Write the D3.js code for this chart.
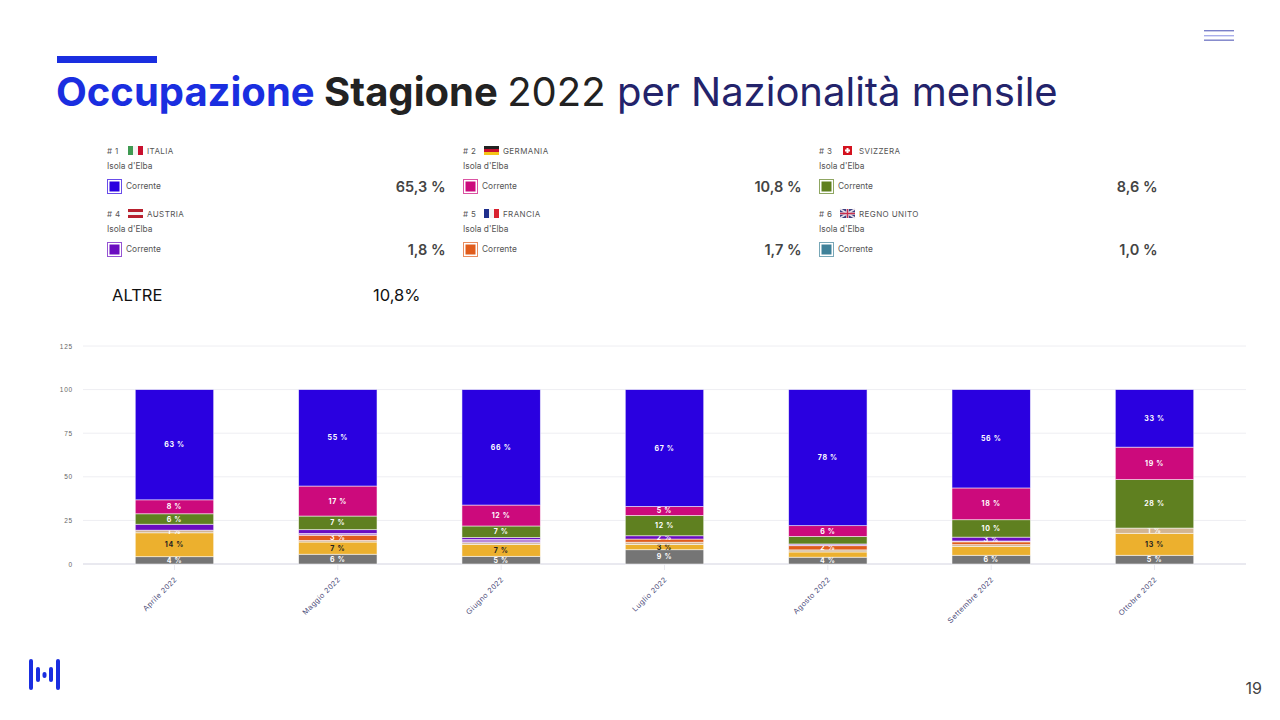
<!DOCTYPE html>
<html>
<head>
<meta charset="utf-8">
<script src="https://cdn.jsdelivr.net/npm/d3@7"></script>
<style>
body { margin: 0; background: #fff; }
svg { display: block; font-family: Inter, sans-serif; }
.grid line { stroke: #eeeef2; }
.tick-y text { fill: #666; font-size: 6.5px; letter-spacing: 0.8px; }
.tick-x text { fill: #4a4a78; font-size: 7.5px; letter-spacing: 0.6px; }
.tick-x line { stroke: #e8e8ee; }
.seg-label { font-size: 7px; font-weight: 700; letter-spacing: 0.7px; text-anchor: middle; dominant-baseline: central; }
.leg-head { fill: #555; font-size: 8px; letter-spacing: 0.4px; }
.leg-sub { fill: #555; font-size: 8.4px; }
.leg-val { fill: #444; font-size: 14.5px; font-weight: 600; text-anchor: end; dominant-baseline: central; }
</style>
</head>
<body>
<svg id="slide" width="1280" height="720"></svg>
<script>
"use strict";

var colors = {
    other: '#757575',
    yellow: '#ecb02e',
    tan: '#d2b592',
    orange: '#e05c1c',
    lilac: '#b98ad8',
    purple: '#6a0cc0',
    green: '#5f8020',
    magenta: '#cc0a7c',
    blue: '#2a00e0'
};
var keys = ['other', 'yellow', 'tan', 'orange', 'lilac', 'purple', 'green', 'magenta', 'blue'];

var months = [
    {month: 'Aprile 2022', other: 4.2, yellow: 13.7, tan: 1.5, orange: 0, lilac: 0, purple: 3.4, green: 6, magenta: 8, blue: 63.2,
     labels: {other: '4 %', yellow: '14 %', tan: '1 %', green: '6 %', magenta: '8 %', blue: '63 %'}},
    {month: 'Maggio 2022', other: 5.6, yellow: 7, tan: 0.9, orange: 3, lilac: 1, purple: 2.2, green: 7.8, magenta: 17.2, blue: 55.3,
     labels: {other: '6 %', yellow: '7 %', orange: '3 %', green: '7 %', magenta: '17 %', blue: '55 %'}},
    {month: 'Giugno 2022', other: 4.4, yellow: 6.8, tan: 1, orange: 0, lilac: 1.8, purple: 1.2, green: 6.6, magenta: 12, blue: 66.2,
     labels: {other: '5 %', yellow: '7 %', green: '7 %', magenta: '12 %', blue: '66 %'}},
    {month: 'Luglio 2022', other: 8.2, yellow: 3, tan: 1.3, orange: 1.8, lilac: 0, purple: 1.9, green: 11.6, magenta: 5.2, blue: 67,
     labels: {other: '9 %', yellow: '3 %', purple: '2 %', green: '12 %', magenta: '5 %', blue: '67 %'}},
    {month: 'Agosto 2022', other: 3.9, yellow: 3, tan: 1.2, orange: 2.4, lilac: 1, purple: 0, green: 4.3, magenta: 6.2, blue: 78,
     labels: {other: '4 %', orange: '2 %', magenta: '6 %', blue: '78 %'}},
    {month: 'Settembre 2022', other: 5, yellow: 5, tan: 1.1, orange: 1.6, lilac: 0.5, purple: 2.2, green: 10, magenta: 18.2, blue: 56.4,
     labels: {other: '6 %', purple: '3 %', green: '10 %', magenta: '18 %', blue: '56 %'}},
    {month: 'Ottobre 2022', other: 5, yellow: 12.6, tan: 3, orange: 0, lilac: 0, purple: 0, green: 27.8, magenta: 18.6, blue: 33,
     labels: {other: '5 %', yellow: '13 %', tan: '1 %', green: '28 %', magenta: '19 %', blue: '33 %'}}
];

// flag stripes are listed as [color, share of width or height]
var legend = [
    {rank: 1, name: 'ITALIA', value: '65,3 %', color: '#2a00e0', dir: 'v', flag: ['#3f9a52', '#f4f4f4', '#c8102e']},
    {rank: 2, name: 'GERMANIA', value: '10,8 %', color: '#cc0a7c', dir: 'h', flag: ['#222', '#c8102e', '#f5c518']},
    {rank: 3, name: 'SVIZZERA', value: '8,6 %', color: '#5f8020', dir: 'swiss', flag: ['#d4121f']},
    {rank: 4, name: 'AUSTRIA', value: '1,8 %', color: '#6a0cc0', dir: 'h', flag: ['#b8202e', '#f4f4f4', '#b8202e']},
    {rank: 5, name: 'FRANCIA', value: '1,7 %', color: '#e05c1c', dir: 'v', flag: ['#1f2f8c', '#f4f4f4', '#d8202e']},
    {rank: 6, name: 'REGNO UNITO', value: '1,0 %', color: '#3f8199', dir: 'uk', flag: ['#3a3f80']}
];

var svg = d3.select('#slide');

function draw_header() {
    svg.append('rect').attr('x', 57).attr('y', 56).attr('width', 100).attr('height', 7).attr('fill', '#1a2ee0');

    var title = svg.append('text').attr('x', 56).attr('y', 106).attr('font-size', 40);
    title.append('tspan').attr('font-weight', 700).attr('fill', '#1a2ee0').text('Occupazione ');
    title.append('tspan').attr('font-weight', 700).attr('fill', '#222').text('Stagione ');
    title.append('tspan').attr('fill', '#222').text('2022 ');
    title.append('tspan').attr('fill', '#23236b').text('per Nazionalità mensile');

    svg.selectAll('.menu')
        .data([[30, '#7a80c8'], [35, '#a9aeea'], [39.5, '#7a80c8']])
        .enter()
        .append('rect')
        .attr('x', 1204).attr('width', 30).attr('height', 1.4)
        .attr('y', function (d) { return d[0]; })
        .attr('fill', function (d) { return d[1]; });

    svg.selectAll('.logo')
        .data([[31, 659, 690], [38, 667, 682], [44.5, 672, 678], [51, 667, 682], [58, 659, 690]])
        .enter()
        .append('rect')
        .attr('x', function (d) { return d[0] - 2; })
        .attr('y', function (d) { return d[1]; })
        .attr('width', 4).attr('rx', 2)
        .attr('height', function (d) { return d[2] - d[1]; })
        .attr('fill', '#1a2ee0');

    svg.append('text').attr('x', 1262).attr('y', 694).attr('text-anchor', 'end')
        .attr('font-size', 16).attr('fill', '#444').text('19');
}

function draw_flag(g, d) {
    var w = 15, h = 9, flag = g.append('g').attr('transform', 'translate(21,-5)');
    if (d.dir === 'v' || d.dir === 'h') {
        d.flag.forEach(function (c, i) {
            flag.append('rect')
                .attr('x', d.dir === 'v' ? i * w / 3 : 0)
                .attr('y', d.dir === 'h' ? i * h / 3 : 0)
                .attr('width', d.dir === 'v' ? w / 3 : w)
                .attr('height', d.dir === 'h' ? h / 3 : h)
                .attr('fill', c);
        });
    } else if (d.dir === 'swiss') {
        flag.append('rect').attr('x', 3).attr('width', 9).attr('height', h).attr('fill', d.flag[0]);
        flag.append('rect').attr('x', 6.5).attr('y', 2).attr('width', 2).attr('height', 5).attr('fill', '#fff');
        flag.append('rect').attr('x', 5).attr('y', 3.5).attr('width', 5).attr('height', 2).attr('fill', '#fff');
    } else {
        flag.append('rect').attr('width', w).attr('height', h).attr('fill', d.flag[0]);
        flag.append('path').attr('d', 'M0,0L15,9M15,0L0,9').attr('stroke', '#e8dfe8').attr('stroke-width', 1.6);
        flag.append('path').attr('d', 'M7.5,0V9M0,4.5H15').attr('stroke', '#e8dfe8').attr('stroke-width', 2.6);
        flag.append('path').attr('d', 'M7.5,0V9M0,4.5H15').attr('stroke', '#c8304e').attr('stroke-width', 1.3);
    }
}

function draw_legend() {
    var col = d3.scalePoint().domain([0, 1, 2]).range([107, 819]),
        row = d3.scalePoint().domain([0, 1]).range([151, 214]);

    var items = svg.selectAll('.legend-item')
        .data(legend)
        .enter()
        .append('g')
        .attr('transform', function (d, i) {
            return 'translate(' + col(i % 3) + ',' + row(Math.floor(i / 3)) + ')';
        });

    items.append('text').attr('class', 'leg-head').attr('y', 2.8).text(function (d) { return '# ' + d.rank; });
    items.append('text').attr('class', 'leg-head').attr('x', 40).attr('y', 2.8).text(function (d) { return d.name; });
    items.append('text').attr('class', 'leg-sub').attr('y', 18).text("Isola d'Elba");
    items.append('rect').attr('x', 0.5).attr('y', 28.5).attr('width', 14).attr('height', 14)
        .attr('fill', '#fff')
        .attr('stroke', function (d) { return d.color; })
        .attr('stroke-opacity', 0.7);
    items.append('rect').attr('x', 2.5).attr('y', 30.5).attr('width', 10).attr('height', 10)
        .attr('fill', function (d) { return d.color; });
    items.append('text').attr('class', 'leg-sub').attr('x', 19).attr('y', 38).text('Corrente');
    items.append('text').attr('class', 'leg-val').attr('x', 338.5).attr('y', 35).text(function (d) { return d.value; });
    items.each(function (d) { draw_flag(d3.select(this), d); });

    svg.append('text').attr('x', 112).attr('y', 300.5).attr('font-size', 16.5).attr('fill', '#111').text('ALTRE');
    svg.append('text').attr('x', 373).attr('y', 300.5).attr('font-size', 16.5).attr('fill', '#111').text('10,8%');
}

function draw_chart() {
    var x = d3.scaleBand()
            .domain(months.map(function (d) { return d.month; }))
            .range([83, 1246])
            .paddingInner(0.52)
            .paddingOuter(0.32),
        y = d3.scaleLinear().domain([0, 125]).range([564, 346]),
        yTicks = [0, 25, 50, 75, 100, 125];

    svg.append('g').attr('class', 'grid')
        .selectAll('line')
        .data(yTicks)
        .enter()
        .append('line')
        .attr('x1', 83).attr('x2', 1246)
        .attr('y1', function (d) { return y(d); })
        .attr('y2', function (d) { return y(d); });

    var yAxis = svg.append('g').attr('class', 'tick-y')
        .attr('transform', 'translate(76,0)')
        .call(d3.axisLeft(y).tickValues(yTicks).tickSize(0));
    yAxis.select('.domain').remove();

    var xAxis = svg.append('g').attr('class', 'tick-x')
        .attr('transform', 'translate(0,564)')
        .call(d3.axisBottom(x).tickSize(6));
    xAxis.select('.domain').remove();
    xAxis.selectAll('text')
        .attr('text-anchor', 'end')
        .attr('transform', 'translate(-5,8) rotate(-45)')
        .attr('dy', '0.3em');

    svg.append('line').attr('x1', 83).attr('x2', 1246)
        .attr('y1', y(0)).attr('y2', y(0))
        .attr('stroke', '#e4e4ec').attr('stroke-width', 1.5);

    var layers = svg.selectAll('.layer')
        .data(d3.stack().keys(keys)(months))
        .enter()
        .append('g');

    layers.selectAll('rect')
        .data(function (s) { return s.map(function (p) { return {key: s.key, p: p}; }); })
        .enter()
        .append('rect')
        .attr('x', function (d) { return x(d.p.data.month); })
        .attr('width', x.bandwidth())
        .attr('y', function (d) { return y(d.p[1]); })
        .attr('height', function (d) { return y(d.p[0]) - y(d.p[1]); })
        .attr('fill', function (d) { return colors[d.key]; })
        .attr('stroke', 'rgba(255,255,255,0.65)')
        .attr('stroke-width', function (d) { return d.p[1] > d.p[0] ? 0.8 : 0; });

    layers.selectAll('text')
        .data(function (s) {
            return s.filter(function (p) { return p.data.labels[s.key]; })
                .map(function (p) { return {key: s.key, p: p}; });
        })
        .enter()
        .append('text')
        .attr('class', 'seg-label')
        .attr('x', function (d) { return x(d.p.data.month) + x.bandwidth() / 2; })
        .attr('y', function (d) { return y((d.p[0] + d.p[1]) / 2); })
        .attr('fill', function (d) { return d.key === 'yellow' ? '#222' : '#fff'; })
        .text(function (d) { return d.p.data.labels[d.key]; });
}

draw_header();
draw_legend();
draw_chart();
</script>
</body>
</html>
